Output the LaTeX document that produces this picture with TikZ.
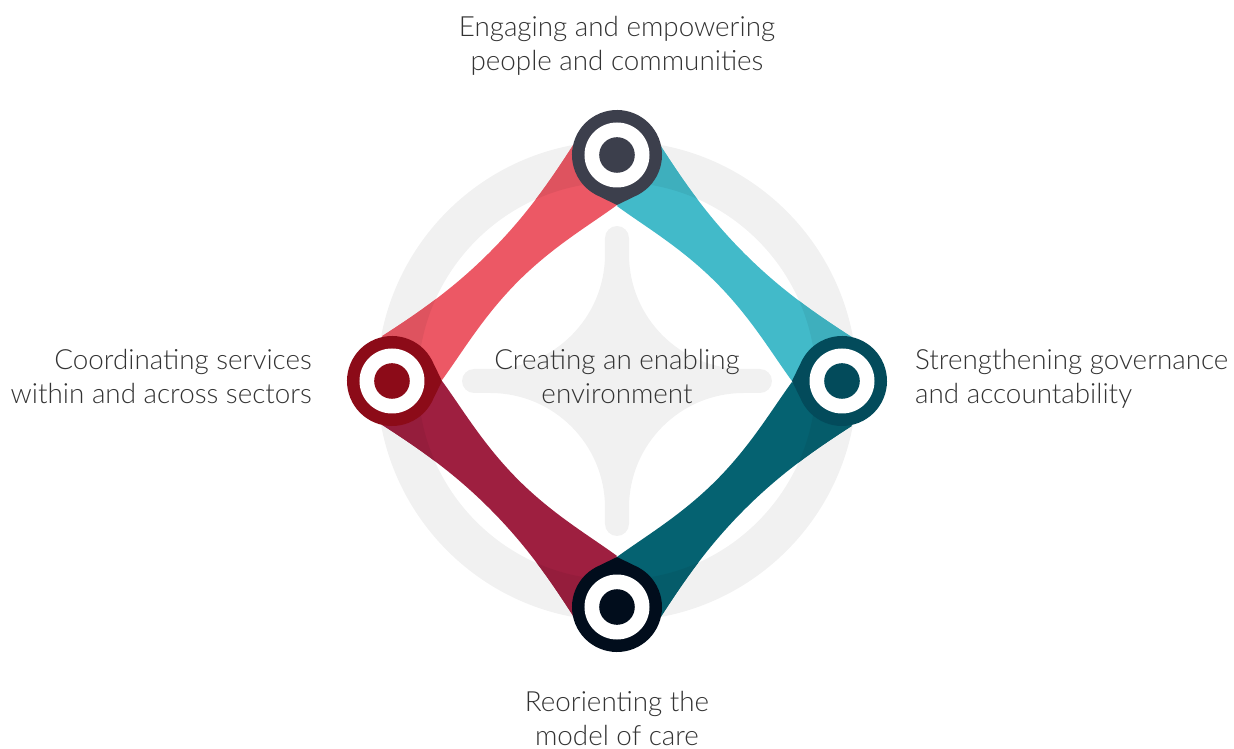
\documentclass[tikz,border=0pt]{standalone}
\usepackage{fontspec}
\setmainfont{Lato Light}
\usetikzlibrary{calc}
\definecolor{ringgray}{HTML}{F1F1F1}
\definecolor{txt}{HTML}{333333}
\definecolor{bandred}{HTML}{EC5865}
\definecolor{bandredd}{HTML}{DE535F}
\definecolor{bandcyan}{HTML}{42BAC9}
\definecolor{bandcyand}{HTML}{3EAFBD}
\definecolor{bandmaroon}{HTML}{9E1F40}
\definecolor{bandmaroond}{HTML}{951D3C}
\definecolor{bandteal}{HTML}{056271}
\definecolor{bandteald}{HTML}{055C6A}
\definecolor{nodetop}{HTML}{3C3F4C}
\definecolor{nodeleft}{HTML}{8C0B18}
\definecolor{noderight}{HTML}{034B5B}
\definecolor{nodebottom}{HTML}{010D1C}
\newcommand{\bandshape}{(24,-38) .. controls (70,-28) and (110,-21.2) .. (159.1,-21.2) .. controls (208.2,-21.2) and (248.2,-28) .. (294.2,-38)
  -- (282.8,35.4) .. controls (248.2,30) and (208.2,19.4) .. (159.1,19.4) .. controls (110,19.4) and (70,30) .. (35.4,35.4) -- cycle}
\newcommand{\ringshape}{(0,0) circle[radius=240] (0,0) circle[radius=199]}
\tikzset{
  lbl/.style={font=\fontsize{27.8}{34}\selectfont, text=txt, inner sep=0pt, anchor=base},
}
% hub: #1 position, #2 direction to centre, #3 colour, #4 name
\newcommand{\hub}[4]{%
  \fill[#3] (#1) ++(#2+28:45) arc[start angle=#2+28, end angle=#2+332, radius=45] -- ($(#1)+(#2:50)$) -- cycle;
  \fill[white] (#1) circle[radius=32.5];
  \fill[#3] (#1) circle[radius=17.8];
  \coordinate (#4) at (#1);
}
\begin{document}
\begin{tikzpicture}[x=1pt,y=1pt]
\useasboundingbox (-617,-368) rectangle (617,381);
% background ring
\fill[ringgray, even odd rule] \ringshape;
% star
\fill[ringgray] (12,143) arc[start angle=0, end angle=180, radius=12]
  -- (-12,126.7) arc[start angle=0, end angle=-90, radius=114.7]
  -- (-143,12) arc[start angle=90, end angle=270, radius=12]
  -- (-126.7,-12) arc[start angle=90, end angle=0, radius=114.7]
  -- (-12,-143) arc[start angle=180, end angle=360, radius=12]
  -- (12,-126.7) arc[start angle=180, end angle=90, radius=114.7]
  -- (143,-12) arc[start angle=-90, end angle=90, radius=12]
  -- (126.7,12) arc[start angle=270, end angle=180, radius=114.7]
  -- cycle;
\coordinate (T) at (0,226);
\coordinate (L) at (-225,0);
\coordinate (B) at (0,-226);
\coordinate (R) at (225,0);
% bands
\begin{scope}[shift={(T)}, rotate=225] \fill[bandred] \bandshape; \end{scope}
\begin{scope}[shift={(L)}, rotate=315] \fill[bandmaroon] \bandshape; \end{scope}
\begin{scope}[shift={(B)}, rotate=45] \fill[bandteal] \bandshape; \end{scope}
\begin{scope}[shift={(R)}, rotate=135] \fill[bandcyan] \bandshape; \end{scope}
% darker where bands cross the ring
\begin{scope}[even odd rule]
  \clip \ringshape;
  \begin{scope}[shift={(T)}, rotate=225] \fill[bandredd] \bandshape; \end{scope}
  \begin{scope}[shift={(L)}, rotate=315] \fill[bandmaroond] \bandshape; \end{scope}
  \begin{scope}[shift={(B)}, rotate=45] \fill[bandteald] \bandshape; \end{scope}
  \begin{scope}[shift={(R)}, rotate=135] \fill[bandcyand] \bandshape; \end{scope}
\end{scope}
% hubs
\hub{T}{270}{nodetop}{hubT}
\hub{L}{0}{nodeleft}{hubL}
\hub{B}{90}{nodebottom}{hubB}
\hub{R}{180}{noderight}{hubR}
% labels (anchor = baseline of last line)
\node[lbl, align=center] (ltop) at (0,310.3) {Engaging and empowering\\people and communities};
\node[lbl, align=right, anchor=base east] (lleft) at (-305,-23) {Coordinating services\\within and across sectors};
\node[lbl, align=left, anchor=base west] (lright) at (298,-23) {Strengthening governance\\and accountability};
\node[lbl, align=center] (lcenter) at (0,-22.3) {Creating an enabling\\environment};
\node[lbl, align=center] (lbottom) at (0,-364.7) {Reorienting the\\model of care};
\end{tikzpicture}
\end{document}
